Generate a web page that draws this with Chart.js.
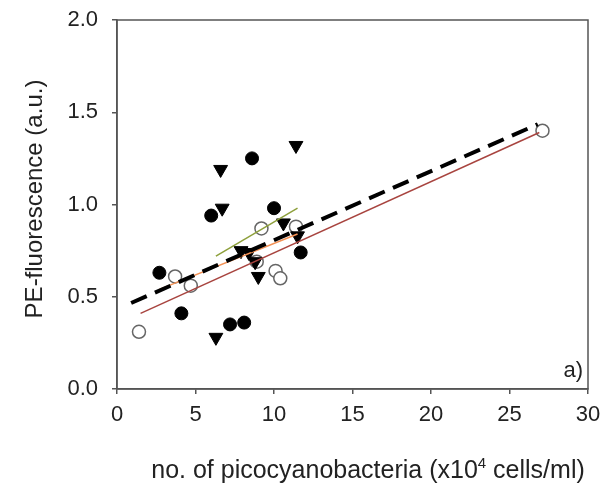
<!DOCTYPE html>
<html>
<head>
<meta charset="utf-8">
<script src="https://cdn.jsdelivr.net/npm/chart.js@4.4.1/dist/chart.umd.min.js"></script>
<style>
  html, body { margin: 0; padding: 0; background: #fff; }
  #wrap { width: 608px; height: 486px; }
</style>
</head>
<body>
<div id="wrap"><canvas id="chart" width="608" height="486"></canvas></div>
<script>
// points
const filledX = [8.6, 10.0, 6.0, 2.7, 11.7, 4.1, 7.2, 8.1];
const filledY = [1.25, 0.98, 0.94, 0.63, 0.74, 0.41, 0.35, 0.36];

const triX = [11.4, 6.6, 6.7, 10.6, 7.9, 8.4, 8.8, 9.0, 6.3, 11.5];
const triY = [1.32, 1.19, 0.98, 0.90, 0.75, 0.74, 0.69, 0.61, 0.28, 0.83];

const openX = [1.4, 3.7, 4.7, 9.2, 11.4, 8.9, 10.1, 10.4, 27.1];
const openY = [0.31, 0.61, 0.56, 0.87, 0.88, 0.69, 0.64, 0.60, 1.40];

// regression lines (end points)
const allFitX = [0.9, 26.8];
const allFitY = [0.466, 1.435];
const redFitX = [1.5, 26.9];
const redFitY = [0.41, 1.39];
const orangeFitX = [2.7, 11.5];
const orangeFitY = [0.54, 0.84];
const greenFitX = [6.3, 11.5];
const greenFitY = [0.72, 0.98];

const xTicks = [0, 5, 10, 15, 20, 25, 30];
const yTicks = [0.0, 0.5, 1.0, 1.5, 2.0];

const FONT = "'Liberation Sans', Arial, sans-serif";

function pts(xs, ys) {
    return xs.map((x, i) => ({ x: x, y: ys[i] }));
}

function fitLine(xs, ys, color, width, dash) {
    return {
        type: 'line',
        data: pts(xs, ys),
        borderColor: color,
        borderWidth: width,
        borderDash: dash,
        pointRadius: 0,
        fill: false,
        order: 0
    };
}

// frame, titles and panel letter
const extras = {
    id: 'extras',
    afterDraw(chart) {
        const ctx = chart.ctx;
        const a = chart.chartArea;
        ctx.save();
        ctx.strokeStyle = '#555';
        ctx.lineWidth = 1.5;
        ctx.strokeRect(a.left, a.top, a.right - a.left, a.bottom - a.top);

        ctx.fillStyle = '#222';
        ctx.font = '22px ' + FONT;
        ctx.textAlign = 'right';
        ctx.textBaseline = 'alphabetic';
        ctx.fillText('a)', 583, 377);

        // x title with superscript
        ctx.textAlign = 'left';
        const t1 = 'no. of picocyanobacteria (x10';
        const t2 = ' cells/ml)';
        ctx.font = '25px ' + FONT;
        const w1 = ctx.measureText(t1).width;
        const w3 = ctx.measureText(t2).width;
        ctx.font = '15px ' + FONT;
        const w2 = ctx.measureText('4').width;
        const total = w1 + w2 + w3;
        const x = 368 - total / 2;
        const base = 478;
        ctx.font = '25px ' + FONT;
        ctx.fillText(t1, x, base);
        ctx.font = '15px ' + FONT;
        ctx.fillText('4', x + w1, base - 10);
        ctx.font = '25px ' + FONT;
        ctx.fillText(t2, x + w1 + w2, base);

        // y title
        ctx.font = '24px ' + FONT;
        ctx.translate(35, 199);
        ctx.rotate(-Math.PI / 2);
        ctx.textAlign = 'center';
        ctx.textBaseline = 'middle';
        ctx.fillText('PE-fluorescence (a.u.)', 0, 0);
        ctx.restore();
    }
};

new Chart(document.getElementById('chart'), {
    type: 'scatter',
    data: {
        datasets: [
            fitLine(allFitX, allFitY, '#000', 4, [17, 9]),
            fitLine(redFitX, redFitY, '#a8443f', 1.5, []),
            fitLine(orangeFitX, orangeFitY, '#f39155', 1.5, []),
            fitLine(greenFitX, greenFitY, '#8ea03c', 1.5, []),
            {
                data: pts(filledX, filledY),
                pointStyle: 'circle',
                pointRadius: 6.5,
                backgroundColor: '#000',
                borderColor: '#000',
                borderWidth: 1,
                order: 1
            },
            {
                data: pts(triX, triY),
                pointStyle: 'triangle',
                pointRotation: 180,
                pointRadius: 8,
                backgroundColor: '#000',
                borderColor: '#000',
                borderWidth: 1,
                order: 1
            },
            {
                data: pts(openX, openY),
                pointStyle: 'circle',
                pointRadius: 6.5,
                backgroundColor: '#fff',
                borderColor: '#666',
                borderWidth: 1.5,
                order: 1
            }
        ]
    },
    options: {
        responsive: false,
        animation: false,
        events: [],
        layout: { padding: { top: 20, right: 20, left: 0, bottom: 0 } },
        plugins: {
            legend: { display: false },
            tooltip: { enabled: false }
        },
        scales: {
            x: {
                type: 'linear',
                min: 0,
                max: 30,
                afterFit(s) { s.height = 97; s.paddingLeft = 0; s.paddingRight = 0; },
                afterBuildTicks(s) { s.ticks = xTicks.map(v => ({ value: v })); },
                border: { display: true, color: '#555', width: 1.5 },
                grid: { display: true, drawOnChartArea: false, tickLength: 5, color: '#555', lineWidth: 1.5 },
                ticks: { color: '#222', font: { family: FONT, size: 22 }, padding: 8, maxRotation: 0 }
            },
            y: {
                type: 'linear',
                min: 0,
                max: 2,
                afterFit(s) { s.width = 117; s.paddingTop = 0; s.paddingBottom = 0; },
                afterBuildTicks(s) { s.ticks = yTicks.map(v => ({ value: v })); },
                border: { display: true, color: '#555', width: 1.5 },
                grid: { display: true, drawOnChartArea: false, tickLength: 5, color: '#555', lineWidth: 1.5 },
                ticks: {
                    color: '#222',
                    font: { family: FONT, size: 22 },
                    padding: 14,
                    callback: v => v.toFixed(1)
                }
            }
        }
    },
    plugins: [extras]
});
</script>
</body>
</html>
